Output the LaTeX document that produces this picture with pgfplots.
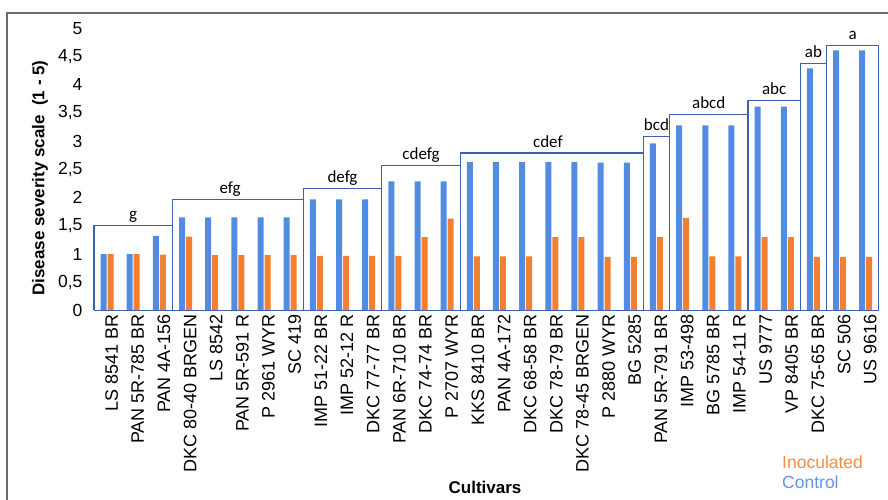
\documentclass[border=0pt]{standalone}
\usepackage{pgfplots}
\pgfplotsset{compat=1.18}
\usepackage{pgfplotstable}
\usepackage{fontspec}
\setmainfont{Liberation Sans}
\newfontfamily\calibri{Carlito}
\definecolor{ctrl}{RGB}{82,140,226}
\definecolor{inoc}{RGB}{243,128,48}
\definecolor{boxc}{RGB}{62,96,176}
\definecolor{legblue}{RGB}{96,150,226}
\definecolor{legorange}{RGB}{242,140,70}

\pgfplotstableread{
x control inoc
0  1.00 1.00
1  1.00 1.00
2  1.32 0.99
3  1.65 1.31
4  1.65 0.98
5  1.65 0.98
6  1.65 0.98
7  1.65 0.98
8  1.97 0.97
9  1.97 0.97
10 1.97 0.97
11 2.29 0.97
12 2.29 1.30
13 2.29 1.63
14 2.63 0.96
15 2.63 0.96
16 2.63 0.96
17 2.63 1.30
18 2.63 1.30
19 2.62 0.95
20 2.62 0.95
21 2.96 1.30
22 3.28 1.64
23 3.28 0.96
24 3.28 0.96
25 3.61 1.30
26 3.61 1.30
27 4.29 0.95
28 4.61 0.95
29 4.61 0.95
}\datatable

\begin{document}
\begin{tikzpicture}
\useasboundingbox (0,0) rectangle (888pt,500pt);
\draw[gray!85!black, line width=1.4pt] (7pt,0pt) -- (7pt,487pt) -- (888pt,487pt);
\begin{axis}[
  at={(94pt,189.5pt)}, anchor=south west,
  scale only axis, width=784.8pt, height=282.2pt,
  xmin=-0.5, xmax=29.5, ymin=0, ymax=5,
  clip=false,
  axis line style={draw=none},
  major tick length=0pt,
  xtick={0,...,29},
  xticklabels={LS 8541 BR, PAN 5R-785 BR, PAN 4A-156, DKC 80-40 BRGEN, LS 8542, PAN 5R-591 R, P 2961 WYR, SC 419, IMP 51-22 BR, IMP 52-12 R, DKC 77-77 BR, PAN 6R-710 BR, DKC 74-74 BR, P 2707 WYR, KKS 8410 BR, PAN 4A-172, DKC 68-58 BR, DKC 78-79 BR, DKC 78-45 BRGEN, P 2880 WYR, BG 5285, PAN 5R-791 BR, IMP 53-498, BG 5785 BR, IMP 54-11 R, US 9777, VP 8405 BR, DKC 75-65 BR, SC 506, US 9616},
  xticklabel style={rotate=90, anchor=east, yshift=-4.5pt, font=\fontsize{18}{20}\selectfont},
  ytick={0,0.5,...,5},
  yticklabel style={xshift=-8pt, font=\fontsize{17.5}{19}\selectfont},
  /pgf/number format/assume math mode=true,
  /pgf/number format/use comma,
]
\addplot[ybar, bar width=6pt, bar shift=-3.5pt, fill=ctrl, draw=none] table[x=x, y=control] {\datatable};
\addplot[ybar, bar width=6pt, bar shift=3.5pt, fill=inoc, draw=none] table[x=x, y=inoc] {\datatable};

\addplot[boxc, line width=1.1pt, sharp plot, mark=none] coordinates {(-0.5,0) (-0.5,1.50) (2.5,1.50) (2.5,0) (-0.5,0)};
\addplot[boxc, line width=1.1pt, sharp plot, mark=none] coordinates {(2.5,0) (2.5,1.97) (7.5,1.97) (7.5,0) (2.5,0)};
\addplot[boxc, line width=1.1pt, sharp plot, mark=none] coordinates {(7.5,0) (7.5,2.16) (10.5,2.16) (10.5,0) (7.5,0)};
\addplot[boxc, line width=1.1pt, sharp plot, mark=none] coordinates {(10.5,0) (10.5,2.57) (13.5,2.57) (13.5,0) (10.5,0)};
\addplot[boxc, line width=1.1pt, sharp plot, mark=none] coordinates {(13.5,0) (13.5,2.79) (20.5,2.79) (20.5,0) (13.5,0)};
\addplot[boxc, line width=1.1pt, sharp plot, mark=none] coordinates {(20.5,0) (20.5,3.09) (21.5,3.09) (21.5,0) (20.5,0)};
\addplot[boxc, line width=1.1pt, sharp plot, mark=none] coordinates {(21.5,0) (21.5,3.47) (24.5,3.47) (24.5,0) (21.5,0)};
\addplot[boxc, line width=1.1pt, sharp plot, mark=none] coordinates {(24.5,0) (24.5,3.72) (26.5,3.72) (26.5,0) (24.5,0)};
\addplot[boxc, line width=1.1pt, sharp plot, mark=none] coordinates {(26.5,0) (26.5,4.38) (27.5,4.38) (27.5,0) (26.5,0)};
\addplot[boxc, line width=1.1pt, sharp plot, mark=none] coordinates {(27.5,0) (27.5,4.69) (29.5,4.69) (29.5,0) (27.5,0)};

\begin{scope}[every node/.style={anchor=base, yshift=6pt, inner sep=0pt, font=\calibri\fontsize{17}{19}\selectfont}]
\node at (axis cs:1,1.50) {g};
\node at (axis cs:4.7,1.97) {efg};
\node at (axis cs:9,2.16) {defg};
\node at (axis cs:12,2.57) {cdefg};
\node at (axis cs:16.85,2.79) {cdef};
\node at (axis cs:21,3.09) {bcd};
\node at (axis cs:23,3.47) {abcd};
\node at (axis cs:25.5,3.72) {abc};
\node at (axis cs:27,4.38) {ab};
\node at (axis cs:28.5,4.69) {a};
\end{scope}
\end{axis}
\node[rotate=90, font=\bfseries\fontsize{17}{19}\selectfont] at (40pt,322pt) {Disease severity scale\ \ (1 - 5)};
\node[font=\bfseries\fontsize{17}{19}\selectfont] at (485pt,13pt) {Cultivars};
\node[anchor=west, inner sep=0pt, text=legorange, font=\fontsize{17.5}{19}\selectfont] at (782pt,38pt) {Inoculated};
\node[anchor=west, inner sep=0pt, text=legblue, font=\fontsize{17.5}{19}\selectfont] at (782pt,18pt) {Control};
\end{tikzpicture}
\end{document}
